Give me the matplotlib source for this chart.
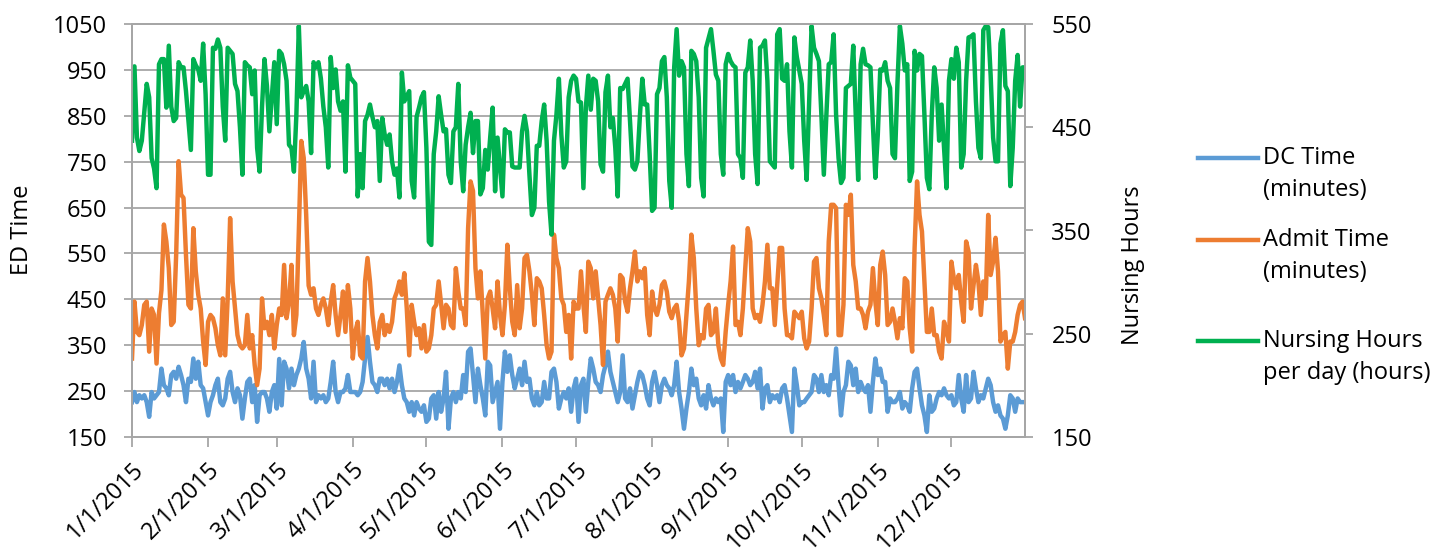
import pandas as pd
import matplotlib
matplotlib.use("Agg")
import matplotlib.pyplot as plt
from matplotlib.lines import Line2D

plt.rcParams['font.family'] = ['Open Sans', 'DejaVu Sans']

# === daily values, 1/1/2015 .. 12/31/2015 (rows = weeks from Thu) ===
dc_time = [
    226, 248, 226, 241, 234, 241, 226,
    194, 248, 234, 241, 248, 299, 263,
    256, 241, 285, 292, 277, 303, 285,
    263, 226, 277, 270, 321, 277, 314,
    263, 256, 226, 197, 226, 241, 263,
    277, 226, 219, 234, 277, 292, 248,
    226, 256, 241, 190, 234, 270, 277,
    226, 263, 183, 241, 248, 248, 234,
    205, 248, 263, 212, 320, 219, 314,
    299, 256, 299, 263, 285, 299, 321,
    357, 299, 277, 234, 314, 226, 241,
    234, 241, 226, 234, 270, 314, 248,
    226, 248, 248, 256, 285, 248, 248,
    248, 241, 248, 270, 321, 368, 314,
    270, 263, 248, 277, 277, 263, 277,
    256, 277, 248, 270, 306, 263, 234,
    226, 205, 226, 197, 226, 212, 205,
    219, 183, 190, 234, 241, 190, 248,
    205, 234, 292, 168, 234, 248, 226,
    248, 234, 285, 248, 336, 343, 285,
    226, 299, 263, 234, 197, 314, 306,
    226, 248, 270, 168, 270, 336, 292,
    328, 285, 256, 277, 299, 263, 314,
    270, 277, 234, 219, 248, 219, 226,
    270, 234, 234, 292, 299, 270, 212,
    234, 248, 234, 256, 205, 256, 277,
    183, 263, 277, 205, 270, 321, 299,
    270, 263, 248, 285, 306, 336, 292,
    270, 248, 226, 248, 328, 234, 226,
    256, 212, 241, 270, 292, 285, 263,
    234, 219, 270, 292, 263, 226, 263,
    277, 263, 256, 241, 263, 314, 248,
    212, 168, 212, 248, 299, 263, 277,
    234, 219, 241, 212, 263, 234, 219,
    234, 226, 234, 161, 270, 285, 263,
    285, 248, 270, 256, 270, 285, 277,
    263, 270, 292, 256, 299, 212, 256,
    263, 226, 241, 234, 241, 226, 256,
    263, 234, 197, 161, 299, 263, 219,
    226, 226, 234, 241, 248, 285, 277,
    248, 285, 248, 263, 241, 285, 277,
    343, 263, 197, 248, 263, 314, 306,
    263, 299, 248, 270, 256, 248, 263,
    205, 270, 321, 285, 299, 270, 270,
    205, 234, 226, 226, 234, 248, 212,
    226, 219, 205, 256, 292, 299, 256,
    219, 197, 161, 241, 205, 212, 234,
    248, 241, 256, 241, 234, 241, 219,
    226, 285, 234, 205, 285, 226, 234,
    292, 256, 226, 241, 234, 256, 277,
    263, 226, 205, 219, 197, 190, 168,
    197, 241, 234, 205, 234, 226, 226,
    226,
]

admit_time = [
    321, 445, 379, 372, 394, 438, 445,
    336, 430, 416, 310, 420, 470, 613,
    576, 518, 394, 401, 547, 751, 678,
    671, 547, 438, 430, 605, 511, 460,
    430, 358, 307, 401, 416, 409, 387,
    350, 328, 452, 328, 452, 627, 489,
    430, 372, 350, 343, 350, 416, 343,
    372, 307, 263, 299, 452, 387, 401,
    372, 416, 343, 394, 430, 416, 525,
    409, 445, 525, 372, 416, 598, 795,
    758, 634, 480, 460, 474, 430, 416,
    438, 452, 430, 394, 445, 481, 416,
    372, 416, 467, 379, 481, 430, 321,
    379, 401, 328, 321, 489, 540, 489,
    416, 372, 343, 400, 416, 372, 394,
    379, 401, 452, 467, 489, 460, 507,
    430, 328, 438, 401, 372, 387, 343,
    394, 336, 343, 372, 430, 438, 489,
    440, 387, 438, 430, 394, 387, 518,
    467, 430, 430, 394, 605, 707, 686,
    518, 452, 511, 416, 321, 452, 467,
    430, 387, 489, 416, 372, 438, 569,
    474, 401, 372, 481, 387, 430, 540,
    547, 511, 460, 394, 496, 489, 474,
    416, 350, 321, 336, 591, 540, 518,
    452, 438, 379, 416, 321, 445, 430,
    430, 511, 438, 379, 532, 518, 452,
    511, 452, 394, 307, 445, 460, 474,
    460, 430, 358, 503, 496, 445, 423,
    474, 511, 554, 489, 511, 496, 518,
    416, 372, 467, 430, 416, 438, 481,
    489, 467, 423, 409, 430, 438, 401,
    328, 343, 416, 489, 591, 540, 430,
    350, 372, 365, 430, 438, 372, 379,
    430, 350, 321, 307, 380, 438, 489,
    565, 394, 401, 372, 430, 520, 605,
    576, 430, 409, 416, 401, 438, 489,
    569, 474, 474, 394, 481, 562, 562,
    430, 372, 372, 365, 423, 416, 409,
    423, 365, 343, 358, 430, 532, 540,
    474, 452, 416, 372, 576, 656, 656,
    649, 372, 372, 438, 656, 634, 678,
    525, 489, 430, 430, 416, 387, 423,
    438, 518, 445, 394, 525, 554, 503,
    394, 401, 430, 401, 365, 409, 387,
    496, 489, 387, 336, 562, 707, 634,
    598, 489, 379, 379, 430, 372, 372,
    336, 321, 401, 380, 358, 532, 496,
    474, 503, 445, 401, 576, 554, 430,
    480, 525, 489, 416, 489, 452, 634,
    503, 532, 584, 511, 358, 372, 379,
    299, 358, 358, 379, 416, 438, 445,
    409,
]

nursing_hours = [
    437, 509, 440, 427, 437, 465, 492,
    479, 420, 410, 391, 511, 516, 516,
    469, 529, 470, 456, 459, 513, 508,
    508, 485, 456, 428, 516, 510, 506,
    495, 531, 482, 404, 404, 527, 526,
    535, 527, 470, 437, 527, 524, 521,
    492, 485, 450, 404, 513, 510, 508,
    482, 505, 430, 407, 470, 516, 490,
    446, 480, 513, 453, 524, 521, 511,
    495, 433, 430, 407, 462, 548, 479,
    485, 490, 475, 425, 513, 508, 513,
    497, 470, 450, 411, 518, 488, 506,
    475, 466, 475, 407, 510, 498, 495,
    492, 383, 424, 391, 456, 462, 472,
    460, 450, 456, 398, 459, 443, 433,
    443, 417, 404, 410, 382, 503, 475,
    480, 485, 398, 382, 460, 469, 479,
    484, 430, 339, 336, 424, 446, 480,
    462, 446, 448, 404, 396, 446, 450,
    492, 417, 388, 433, 450, 464, 425,
    456, 456, 385, 391, 428, 409, 440,
    469, 388, 440, 411, 383, 448, 445,
    445, 412, 411, 411, 411, 446, 461,
    446, 404, 365, 372, 432, 432, 456,
    472, 437, 378, 346, 437, 462, 497,
    443, 411, 417, 479, 495, 500, 497,
    475, 474, 391, 469, 500, 467, 497,
    495, 475, 414, 407, 484, 500, 450,
    459, 430, 383, 488, 487, 492, 497,
    456, 412, 409, 417, 460, 497, 472,
    472, 424, 369, 372, 482, 488, 514,
    518, 479, 398, 372, 508, 545, 500,
    514, 508, 424, 393, 524, 521, 514,
    479, 401, 383, 527, 536, 545, 524,
    501, 495, 424, 404, 511, 521, 514,
    510, 508, 424, 420, 401, 503, 508,
    534, 495, 424, 395, 527, 529, 534,
    495, 417, 414, 411, 540, 545, 497,
    495, 511, 446, 411, 537, 518, 505,
    492, 437, 399, 475, 548, 527, 521,
    514, 462, 404, 460, 511, 513, 540,
    462, 420, 396, 401, 488, 490, 492,
    529, 462, 399, 511, 526, 511, 510,
    508, 453, 401, 443, 506, 505, 513,
    495, 488, 424, 420, 492, 548, 531,
    505, 511, 398, 407, 524, 505, 521,
    519, 462, 401, 390, 462, 508, 488,
    437, 472, 430, 391, 495, 516, 497,
    527, 513, 411, 424, 495, 537, 538,
    540, 475, 430, 420, 544, 548, 547,
    500, 440, 417, 417, 531, 544, 490,
    485, 393, 430, 495, 520, 470, 508,
    508,
]

series_labels = ["DC Time\n(minutes)", "Admit Time\n(minutes)", "Nursing Hours\nper day (hours)"]
colors = ["#5B9BD5", "#ED7D31", "#00B050"]

dates = pd.date_range("2015-01-01", periods=len(dc_time), freq="D")
month_ticks = pd.date_range("2015-01-01", "2015-12-01", freq="MS")
month_labels = [f"{d.month}/1/2015" for d in month_ticks]

W, H = 1455, 555
fig = plt.figure(figsize=(W / 100, H / 100), dpi=100)
ax = fig.add_axes([132 / W, 1 - 437 / H, (1025 - 132) / W, (437 - 24) / H])
ax2 = ax.twinx()

lw = 3.2
ax.plot(dates, dc_time, color=colors[0], lw=lw, solid_joinstyle="round")
ax.plot(dates, admit_time, color=colors[1], lw=lw, solid_joinstyle="round")
ax2.plot(dates, nursing_hours, color=colors[2], lw=lw, solid_joinstyle="round")

ax.set_xlim(dates[0], dates[-1])
ax.set_ylim(150, 1050)
ax.set_yticks(range(150, 1051, 100))
ax2.set_ylim(150, 550)
ax2.set_yticks(range(150, 551, 100))

ax.set_xticks(month_ticks)
ax.set_xticklabels(month_labels, rotation=45, ha="right", rotation_mode="anchor")

grid_c = "#A6A6A6"
ax.grid(axis="y", color=grid_c, lw=1.3)
ax.set_axisbelow(True)
for a in (ax, ax2):
    for s in ("top", "left", "right", "bottom"):
        a.spines[s].set_color(grid_c)
        a.spines[s].set_linewidth(1.3)

fs = 17
ax.tick_params(axis="y", labelsize=fs, length=6, width=1.3, color=grid_c, pad=12)
ax.tick_params(axis="x", labelsize=fs, length=7, width=1.3, color=grid_c, pad=8)
ax2.tick_params(axis="y", labelsize=fs, length=6, width=1.3, color=grid_c, pad=13)

fig.text(22 / W, 1 - 230 / H, "ED Time", rotation=90, ha="center", va="center", fontsize=fs)
fig.text(1133 / W, 1 - 265 / H, "Nursing Hours", rotation=90, ha="center", va="center", fontsize=fs)

# === legend, drawn by hand so the line sits beside the first text line ===
legend_y = [158, 240, 341]
for lab, c, y in zip(series_labels, colors, legend_y):
    fig.add_artist(Line2D([1198 / W, 1258 / W], [1 - y / H] * 2, color=c, lw=lw,
                          transform=fig.transFigure))
    first, second = lab.split("\n")
    fig.text(1263 / W, 1 - y / H, first, ha="left", va="center", fontsize=fs)
    fig.text(1263 / W, 1 - (y + 32) / H, second, ha="left", va="center", fontsize=fs)

fig.savefig("out.png", dpi=100)
